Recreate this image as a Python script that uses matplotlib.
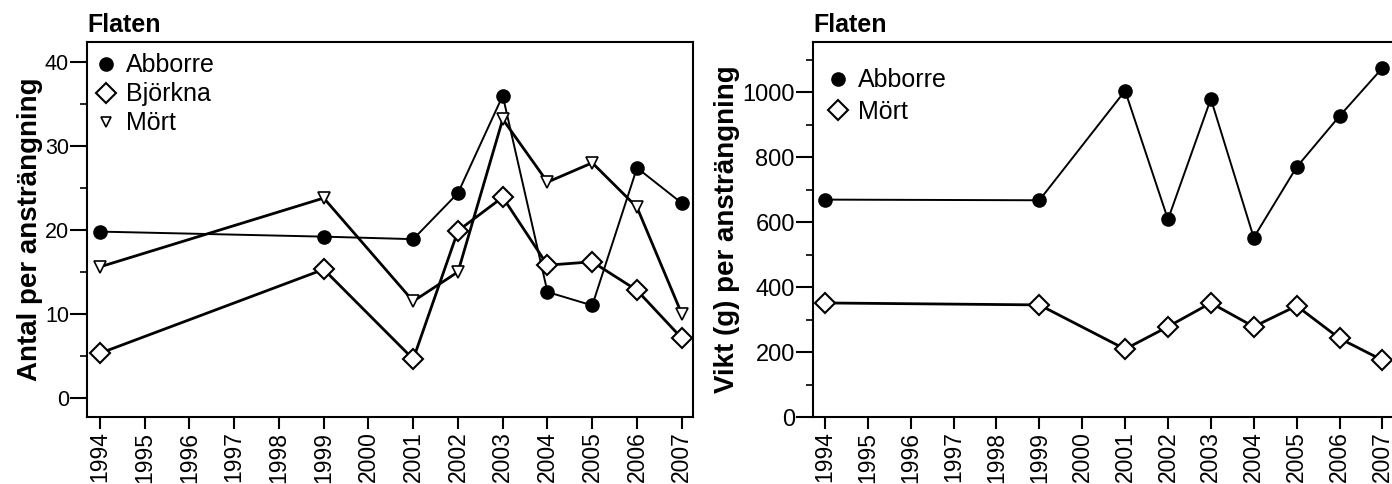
import numpy as np
import matplotlib
matplotlib.use("Agg")
import matplotlib.pyplot as plt
from matplotlib.lines import Line2D
from matplotlib.ticker import MultipleLocator

plt.rcParams['font.family'] = ['Liberation Sans', 'DejaVu Sans']

years = [1994, 1999, 2001, 2002, 2003, 2004, 2005, 2006, 2007]
tick_years = list(range(1994, 2008))

# antal per ansträngning
antal_abborre = [19.8, 19.2, 18.9, 24.4, 36.0, 12.6, 11.0, 27.4, 23.2]
antal_bjorkna = [5.3, 15.3, 4.6, 19.9, 23.9, 15.8, 16.2, 12.8, 7.1]
antal_mort = [15.6, 23.8, 11.5, 15.0, 33.2, 25.7, 28.0, 22.7, 10.0]

# vikt (g) per ansträngning
vikt_abborre = [669, 667, 1004, 608, 979, 552, 769, 926, 1074]
vikt_mort = [351, 345, 209, 278, 351, 278, 342, 242, 175]

fig = plt.figure(figsize=(13.92, 4.84), dpi=100)
ax1 = fig.add_axes([0.0625, 0.1384, 0.4353, 0.7748])
ax2 = fig.add_axes([0.584, 0.1384, 0.4168, 0.7748])

circ = dict(marker='o', markersize=9.5, markerfacecolor='black', markeredgecolor='black')
diam = dict(marker='D', markersize=10, markerfacecolor='white', markeredgecolor='black', markeredgewidth=1.5)
tri = dict(marker='v', markersize=8, markerfacecolor='white', markeredgecolor='black', markeredgewidth=1.2)

# left panel
ax1.plot(years, antal_abborre, color='black', lw=1.4, **circ)
ax1.plot(years, antal_bjorkna, color='black', lw=2.0, **diam)
ax1.plot(years, antal_mort, color='black', lw=2.0, **tri)
ax1.set_xlim(1993.71, 2007.25)
ax1.set_ylim(-2.3, 42.4)
ax1.yaxis.set_major_locator(MultipleLocator(10))
ax1.yaxis.set_minor_locator(MultipleLocator(5))
ax1.set_ylabel('Antal per ansträngning', fontsize=20, fontweight='bold')
ax1.yaxis.set_label_coords(-0.072, 0.5)
ax1.tick_params(axis='y', which='major', labelsize=15.5)
h1 = [Line2D([], [], linestyle='none', **circ),
      Line2D([], [], linestyle='none', **diam),
      Line2D([], [], linestyle='none', marker='v', markersize=7, markerfacecolor='white',
             markeredgecolor='black', markeredgewidth=1.2)]
ax1.legend(h1, ['Abborre', 'Björkna', 'Mört'], loc='upper left', frameon=False,
           fontsize=18, handletextpad=0.2, labelspacing=0.2, borderaxespad=0.2,
           handlelength=1.2, bbox_to_anchor=(-0.018, 1.01))

# right panel
ax2.plot(years, vikt_abborre, color='black', lw=1.4, **circ)
ax2.plot(years, vikt_mort, color='black', lw=2.0, **diam)
ax2.set_xlim(1993.72, 2007.25)
ax2.set_ylim(0, 1154)
ax2.yaxis.set_major_locator(MultipleLocator(200))
ax2.yaxis.set_minor_locator(MultipleLocator(100))
ax2.set_ylabel('Vikt (g) per ansträngning', fontsize=20, fontweight='bold')
ax2.yaxis.set_label_coords(-0.126, 0.5)
ax2.tick_params(axis='y', which='major', labelsize=17)
h2 = [Line2D([], [], linestyle='none', **circ),
      Line2D([], [], linestyle='none', **diam)]
ax2.legend(h2, ['Abborre', 'Mört'], loc='upper left', frameon=False,
           fontsize=18, handletextpad=0.2, labelspacing=0.3,
           handlelength=1.2, bbox_to_anchor=(-0.022, 0.99))

for ax in (ax1, ax2):
    ax.set_xticks(tick_years)
    ax.set_xticklabels([str(y) for y in tick_years], rotation=90)
    ax.tick_params(axis='x', which='major', direction='out', length=8.5, width=1.5,
                   labelsize=16.5, pad=2)
    ax.tick_params(axis='y', which='major', direction='out', length=12, width=1.5, pad=1)
    ax.tick_params(axis='y', which='minor', direction='out', length=5, width=1.2)
    for s in ax.spines.values():
        s.set_linewidth(1.5)
    ax.set_title('Flaten', loc='left', fontsize=18, fontweight='bold', pad=7)

fig.savefig('out.png', dpi=100)
